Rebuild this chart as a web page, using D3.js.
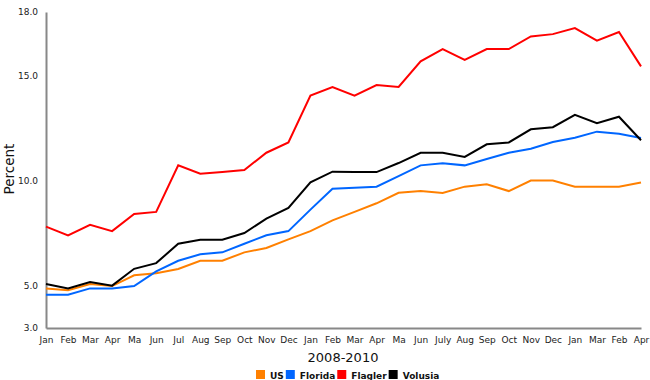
<!DOCTYPE html>
<html>
<head>
<meta charset="utf-8">
<script src="https://cdn.jsdelivr.net/npm/d3@7"></script>
<style>
  body { margin: 0; background: white; }
  text { font-family: "DejaVu Sans", Verdana, sans-serif; }
</style>
</head>
<body>
<div id="container"></div>
<script>
let w = 650;
let h = 380;

// month labels, 2008-2010 (as printed on the chart)
let months = ["Jan", "Feb", "Mar", "Apr", "Ma", "Jun", "Jul", "Aug", "Sep", "Oct", "Nov", "Dec",
  "Jan", "Feb", "Mar", "Apr", "Ma", "Jun", "July", "Aug", "Sep", "Oct", "Nov", "Dec",
  "Jan", "Mar", "Feb", "Apr"];

let yTicks = [3, 5, 10, 15, 18];

let seriesNames = ["US", "Florida", "Flagler", "Volusia"];
let seriesColors = ["#ff8000", "#0066ff", "#ff0000", "#000000"];

let usValues = [4.88, 4.79, 5.09, 4.99, 5.50, 5.60, 5.80, 6.19, 6.19, 6.59, 6.80, 7.21,
  7.60, 8.11, 8.51, 8.92, 9.42, 9.50, 9.41, 9.71, 9.82, 9.50, 10.0, 10.0,
  9.71, 9.71, 9.71, 9.91];
let floridaValues = [4.58, 4.58, 4.88, 4.88, 4.99, 5.69, 6.19, 6.50, 6.59, 7.00, 7.40, 7.60,
  8.62, 9.61, 9.66, 9.71, 10.21, 10.72, 10.82, 10.72, 11.02, 11.32, 11.51, 11.83,
  12.03, 12.32, 12.22, 12.02];
let flaglerValues = [7.81, 7.40, 7.90, 7.60, 8.41, 8.51, 10.72, 10.32, 10.40, 10.50, 11.32, 11.81,
  14.03, 14.44, 14.03, 14.53, 14.44, 15.66, 16.24, 15.73, 16.24, 16.24, 16.84, 16.95,
  17.24, 16.64, 17.05, 15.42];
let volusiaValues = [5.09, 4.88, 5.18, 5.01, 5.81, 6.08, 7.00, 7.19, 7.19, 7.51, 8.19, 8.70,
  9.91, 10.42, 10.40, 10.40, 10.83, 11.32, 11.32, 11.12, 11.72, 11.81, 12.43, 12.53,
  13.12, 12.72, 13.03, 11.91];

let allSeries = [usValues, floridaValues, flaglerValues, volusiaValues];

let viz = d3.select("#container")
  .append("svg")
  .attr("width", w)
  .attr("height", h)
  .style("background-color", "white");

let xScale = d3.scaleLinear().domain([0, months.length - 1]).range([46, 641]);
let yScale = d3.scaleLinear().domain([3, 18]).range([328, 12]);

// y axis
let yAxisGroup = viz.append("g").attr("transform", "translate(46,0)");
yAxisGroup.call(d3.axisLeft(yScale).tickValues(yTicks).tickSize(0).tickPadding(8).tickFormat(d3.format(".1f")));
yAxisGroup.select(".domain").attr("stroke", "#888").attr("stroke-width", 2);
yAxisGroup.selectAll("text").attr("font-size", 9).attr("fill", "#222")
  .attr("font-family", "DejaVu Sans, sans-serif");

// x axis
let xAxisGroup = viz.append("g").attr("transform", "translate(0,328)");
xAxisGroup.call(d3.axisBottom(xScale).tickValues(d3.range(months.length)).tickSize(0).tickPadding(9)
  .tickFormat(function (d) { return months[d]; }));
xAxisGroup.select(".domain").attr("stroke", "#888").attr("stroke-width", 2);
xAxisGroup.selectAll("text").attr("font-size", 9).attr("fill", "#222")
  .attr("font-family", "DejaVu Sans, sans-serif");

// lines
let line = d3.line()
  .x(function (d, i) { return xScale(i); })
  .y(function (d) { return yScale(d); });

viz.selectAll(".series")
  .data(allSeries)
  .enter()
  .append("path")
  .attr("class", "series")
  .attr("d", line)
  .attr("fill", "none")
  .attr("stroke", function (d, i) { return seriesColors[i]; })
  .attr("stroke-width", 2)
  .attr("stroke-linejoin", "miter");

// axis titles
viz.append("text")
  .text("Percent")
  .attr("transform", "translate(14,169) rotate(-90)")
  .attr("text-anchor", "middle")
  .attr("font-size", 13.5)
  .attr("fill", "#111");

viz.append("text")
  .text("2008-2010")
  .attr("x", 343)
  .attr("y", 362)
  .attr("text-anchor", "middle")
  .attr("font-size", 13)
  .attr("fill", "#111");

// legend
let legend = viz.append("g").attr("transform", "translate(256,370)");
let lx = 0;
seriesNames.forEach(function (name, i) {
  legend.append("rect")
    .attr("x", lx)
    .attr("y", 0)
    .attr("width", 9)
    .attr("height", 9)
    .attr("fill", seriesColors[i]);
  let t = legend.append("text")
    .text(name)
    .attr("x", lx + 14)
    .attr("y", 8.5)
    .attr("font-family", "DejaVu Sans Condensed, DejaVu Sans, sans-serif")
    .attr("font-size", 9)
    .attr("font-weight", "bold")
    .attr("fill", "#111");
  lx += 14 + t.node().getComputedTextLength() + 2;
});
</script>
</body>
</html>
